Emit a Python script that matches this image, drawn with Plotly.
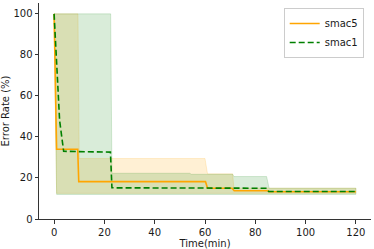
import plotly.graph_objects as go

# ---- data ----
smac5_t = [0, 1.0, 9.4, 9.8, 60.2, 61.0, 70.8, 71.6, 85.0, 85.5, 120]
smac5_v = [100, 34.0, 34.0, 18.2, 18.2, 15.0, 15.0, 13.8, 13.8, 13.3, 13.3]

smac1_t = [0, 2.2, 3.8, 22.4, 23.0, 84.5, 85.3, 120]
smac1_v = [100, 48.0, 33.0, 32.6, 15.2, 15.0, 13.4, 13.4]

smac5_band_t = [0, 1.0, 9.5, 10.0, 60.0, 61.0, 71.0, 71.5, 120]
smac5_band_hi = [100, 100, 100, 29.5, 29.5, 22.0, 22.0, 15.0, 15.0]
smac5_band_lo = [100, 12.5, 12.5, 12.5, 12.5, 12.5, 12.5, 12.5, 12.5]

smac1_band_t = [0, 1.0, 22.5, 23.0, 54.0, 54.5, 71.0, 71.5, 84.5, 85.5, 120]
smac1_band_hi = [100, 100, 100, 22.3, 22.3, 21.8, 21.8, 20.7, 20.7, 15.0, 15.0]
smac1_band_lo = [100, 12.0, 12.0, 12.0, 12.0, 12.0, 12.0, 12.0, 12.0, 12.0, 12.0]

x_ticks = [0, 20, 40, 60, 80, 100, 120]
y_ticks = [0, 20, 40, 60, 80, 100]

ORANGE = "#FFA500"
GREEN = "#008000"
ORANGE_FILL = "rgba(255,165,0,0.17)"
GREEN_FILL = "rgba(0,128,0,0.15)"

fig = go.Figure()

def band(t, hi, lo, fill):
    return go.Scatter(
        x=list(t) + list(reversed(t)),
        y=list(hi) + list(reversed(lo)),
        fill="toself", fillcolor=fill,
        line=dict(width=1, color=fill),
        mode="lines", showlegend=False, hoverinfo="skip",
    )

fig.add_trace(band(smac5_band_t, smac5_band_hi, smac5_band_lo, ORANGE_FILL))
fig.add_trace(band(smac1_band_t, smac1_band_hi, smac1_band_lo, GREEN_FILL))

fig.add_trace(go.Scatter(x=smac5_t, y=smac5_v, mode="lines", name="smac5",
                         line=dict(color=ORANGE, width=1.6)))
fig.add_trace(go.Scatter(x=smac1_t, y=smac1_v, mode="lines", name="smac1",
                         line=dict(color=GREEN, width=1.6, dash="6px,3px")))

axis_common = dict(
    showgrid=False, zeroline=False, showline=True, linecolor="#333333",
    linewidth=1, ticks="outside", ticklen=3.5, tickwidth=1, tickcolor="#333333",
    tickfont=dict(size=10, color="#1a1a1a"), automargin=False,
)

fig.update_layout(
    width=374, height=249,
    margin=dict(l=39, r=3, t=3, b=30),
    paper_bgcolor="white", plot_bgcolor="white",
    font=dict(family="DejaVu Sans", size=10, color="#1a1a1a"),
    xaxis=dict(range=[-6, 126], tickvals=x_ticks,
               title=dict(text="Time(min)", standoff=1, font=dict(size=10)),
               **axis_common),
    yaxis=dict(range=[0, 105.3], tickvals=y_ticks,
               title=dict(text="Error Rate (%)", standoff=5, font=dict(size=10)),
               **axis_common),
    legend=dict(x=0.978, y=0.977, xanchor="right", yanchor="top",
                bgcolor="white", bordercolor="#cccccc", borderwidth=1,
                font=dict(size=10), tracegroupgap=0, itemwidth=30),
    showlegend=True,
)

fig.write_html("out.html", config={"displayModeBar": False},
               post_script="document.body.style.margin='0';document.body.style.padding='0';")
